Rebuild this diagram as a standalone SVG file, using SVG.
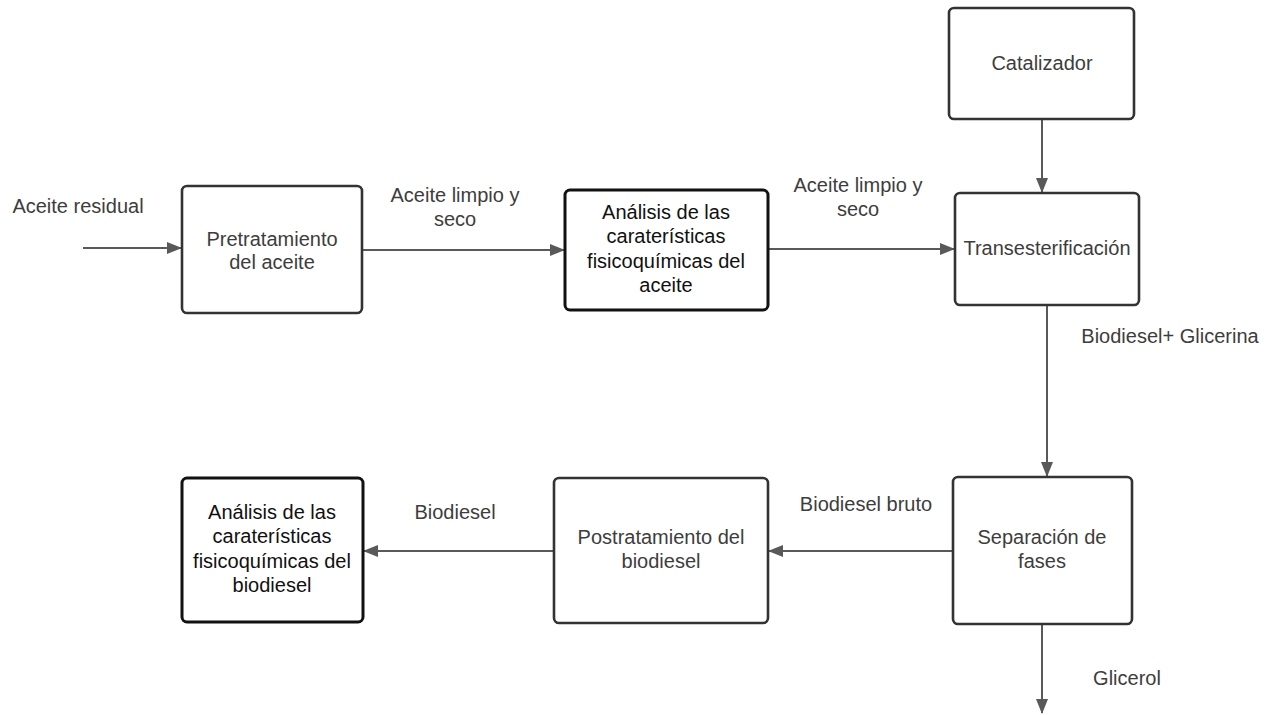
<svg xmlns="http://www.w3.org/2000/svg" width="1278" height="715" viewBox="0 0 1278 715">
<style>
.box{fill:#fff;stroke:#333;stroke-width:2.6}
.bbox{fill:#fff;stroke:#111;stroke-width:3}
.t{font-family:"Liberation Sans",Arial,sans-serif;font-size:20px;fill:#3d3d3d;text-anchor:middle}
.tb{font-family:"Liberation Sans",Arial,sans-serif;font-size:20px;fill:#111;text-anchor:middle}
.c{fill:none;stroke:#595959;stroke-width:2}
</style>
<defs>
<marker id="ah" viewBox="0 0 15 12" refX="14" refY="6" markerWidth="15" markerHeight="12" markerUnits="userSpaceOnUse" orient="auto">
<path d="M0,0 L15,6 L0,12 Z" fill="#595959"/>
</marker>
</defs>
<rect width="1278" height="715" fill="#fff"/>
<g id="connectors">
<line class="c" x1="83" y1="248" x2="181" y2="248" marker-end="url(#ah)"/>
<line class="c" x1="363" y1="250" x2="564" y2="250" marker-end="url(#ah)"/>
<line class="c" x1="768" y1="249" x2="954" y2="249" marker-end="url(#ah)"/>
<line class="c" x1="1042" y1="120" x2="1042" y2="192" marker-end="url(#ah)"/>
<line class="c" x1="1047" y1="306" x2="1047" y2="476" marker-end="url(#ah)"/>
<line class="c" x1="952" y1="551" x2="769" y2="551" marker-end="url(#ah)"/>
<line class="c" x1="554" y1="551" x2="364" y2="551" marker-end="url(#ah)"/>
<line class="c" x1="1042" y1="625" x2="1042" y2="713" marker-end="url(#ah)"/>
<text class="t" x="78" y="213">Aceite residual</text>
<text class="t" x="455" y="202">Aceite limpio y</text>
<text class="t" x="455" y="226">seco</text>
<text class="t" x="858" y="192">Aceite limpio y</text>
<text class="t" x="858" y="216">seco</text>
<text class="t" x="1170" y="343">Biodiesel+ Glicerina</text>
<text class="t" x="866" y="511">Biodiesel bruto</text>
<text class="t" x="455" y="519">Biodiesel</text>
<text class="t" x="1127" y="685">Glicerol</text>
</g>
<g id="pretratamiento">
<rect class="box" x="182" y="186" width="180" height="127" rx="5"/>
<text class="t" x="272" y="246">Pretratamiento</text>
<text class="t" x="272" y="269">del aceite</text>
</g>
<g id="analisis-aceite">
<rect class="bbox" x="565" y="190" width="203" height="120" rx="5"/>
<text class="tb" x="666" y="219">Análisis de las</text>
<text class="tb" x="666" y="243">caraterísticas</text>
<text class="tb" x="666" y="268">fisicoquímicas del</text>
<text class="tb" x="666" y="292">aceite</text>
</g>
<g id="catalizador">
<rect class="box" x="949" y="8" width="185" height="111" rx="5"/>
<text class="t" x="1042" y="70">Catalizador</text>
</g>
<g id="transesterificacion">
<rect class="box" x="955" y="193" width="184" height="112" rx="5"/>
<text class="t" x="1047" y="255">Transesterificación</text>
</g>
<g id="separacion">
<rect class="box" x="953" y="477" width="179" height="147" rx="5"/>
<text class="t" x="1042" y="544">Separación de</text>
<text class="t" x="1042" y="568">fases</text>
</g>
<g id="postratamiento">
<rect class="box" x="554" y="478" width="214" height="145" rx="5"/>
<text class="t" x="661" y="544">Postratamiento del</text>
<text class="t" x="661" y="568">biodiesel</text>
</g>
<g id="analisis-biodiesel">
<rect class="bbox" x="182" y="478" width="181" height="144" rx="5"/>
<text class="tb" x="272" y="519">Análisis de las</text>
<text class="tb" x="272" y="543">caraterísticas</text>
<text class="tb" x="272" y="568">fisicoquímicas del</text>
<text class="tb" x="272" y="592">biodiesel</text>
</g>
</svg>
